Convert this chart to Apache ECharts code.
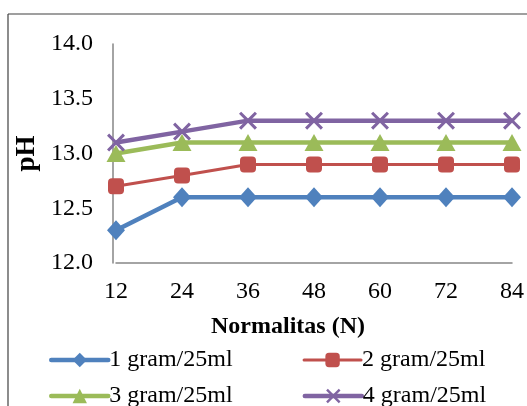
<!DOCTYPE html>
<html>
<head>
<meta charset="utf-8">
<script src="https://cdn.jsdelivr.net/npm/echarts@6/dist/echarts.min.js"></script>
<style>html,body{margin:0;padding:0;background:#fff;}#c{width:527px;height:406px;}</style>
</head>
<body>
<div id="c"></div>
<script>
var categories = ['12', '24', '36', '48', '60', '72', '84'];
var seriesNames = ['1 gram/25ml', '2 gram/25ml', '3 gram/25ml', '4 gram/25ml'];
var s1 = [12.3, 12.6, 12.6, 12.6, 12.6, 12.6, 12.6];
var s2 = [12.7, 12.8, 12.9, 12.9, 12.9, 12.9, 12.9];
var s3 = [13.0, 13.1, 13.1, 13.1, 13.1, 13.1, 13.1];
var s4 = [13.1, 13.2, 13.3, 13.3, 13.3, 13.3, 13.3];
var yMin = 12, yMax = 14, yStep = 0.5;
var xName = 'Normalitas (N)';
var yName = 'pH';

var font = 'Liberation Serif, Times New Roman, serif';
var colors = ['#4F81BD', '#C0504D', '#9BBB59', '#8064A2'];
var widths = [4.5, 3, 4.5, 4.5];
var xPath = 'path://M0,1.2L1.2,0L5,3.8L8.8,0L10,1.2L6.2,5L10,8.8L8.8,10L5,6.2L1.2,10L0,8.8L3.8,5Z';

function legendItem(i) {
  return {name: seriesNames[i], lineStyle: {width: widths[i], color: colors[i], cap: 'round'}};
}
var chart = echarts.init(document.getElementById('c'), null, {renderer: 'canvas'});
var legendCommon = {
  left: 44, itemWidth: 57, itemHeight: 18, itemGap: 70,
  textStyle: {fontFamily: font, fontSize: 24, color: '#000', padding: [0, 0, 0, -4]}
};
chart.setOption({
  animation: false,
  backgroundColor: '#fff',
  color: colors,
  graphic: [
    {type: 'line', shape: {x1: 8, y1: 14, x2: 527, y2: 14}, style: {stroke: '#404040', lineWidth: 1.2}, silent: true},
    {type: 'line', shape: {x1: 8, y1: 14, x2: 8, y2: 406}, style: {stroke: '#404040', lineWidth: 1.2}, silent: true}
  ],
  grid: {left: 116, right: 15, top: 44, bottom: 143, containLabel: false},
  legend: [
    Object.assign({}, legendCommon, {top: 343, data: [legendItem(0), legendItem(1)]}),
    Object.assign({}, legendCommon, {top: 379, data: [legendItem(2), legendItem(3)]})
  ],
  xAxis: {
    type: 'category', data: categories, boundaryGap: false,
    name: xName, nameLocation: 'middle', nameGap: 52,
    nameTextStyle: {fontFamily: font, fontSize: 24, fontWeight: 'bold', color: '#000', padding: [0, 52, 0, 0]},
    axisLine: {lineStyle: {color: '#868686', width: 1.5}},
    axisTick: {show: false},
    axisLabel: {fontFamily: font, fontSize: 24, color: '#000', margin: 17},
    splitLine: {show: false}
  },
  yAxis: {
    type: 'value', min: yMin, max: yMax, interval: yStep, offset: 3,
    name: yName, nameLocation: 'middle', nameGap: 64,
    nameTextStyle: {fontFamily: font, fontSize: 27, fontWeight: 'bold', color: '#000'},
    axisLine: {show: true, lineStyle: {color: '#868686', width: 1.5}},
    axisTick: {show: false},
    axisLabel: {fontFamily: font, fontSize: 24, color: '#000', margin: 20, formatter: function (v) { return v.toFixed(1); }},
    splitLine: {show: false}
  },
  series: [
    {name: seriesNames[0], type: 'line', data: s1, symbol: 'diamond', symbolSize: [18, 20],
     lineStyle: {width: widths[0], color: colors[0]}, itemStyle: {color: colors[0]}},
    {name: seriesNames[1], type: 'line', data: s2, symbol: 'roundRect', symbolSize: 16,
     lineStyle: {width: widths[1], color: colors[1]}, itemStyle: {color: colors[1]}},
    {name: seriesNames[2], type: 'line', data: s3, symbol: 'triangle', symbolSize: [19, 17],
     lineStyle: {width: widths[2], color: colors[2]}, itemStyle: {color: colors[2]}},
    {name: seriesNames[3], type: 'line', data: s4, symbol: xPath, symbolSize: 18,
     lineStyle: {width: widths[3], color: colors[3]}, itemStyle: {color: colors[3]}}
  ]
});
</script>
</body>
</html>
